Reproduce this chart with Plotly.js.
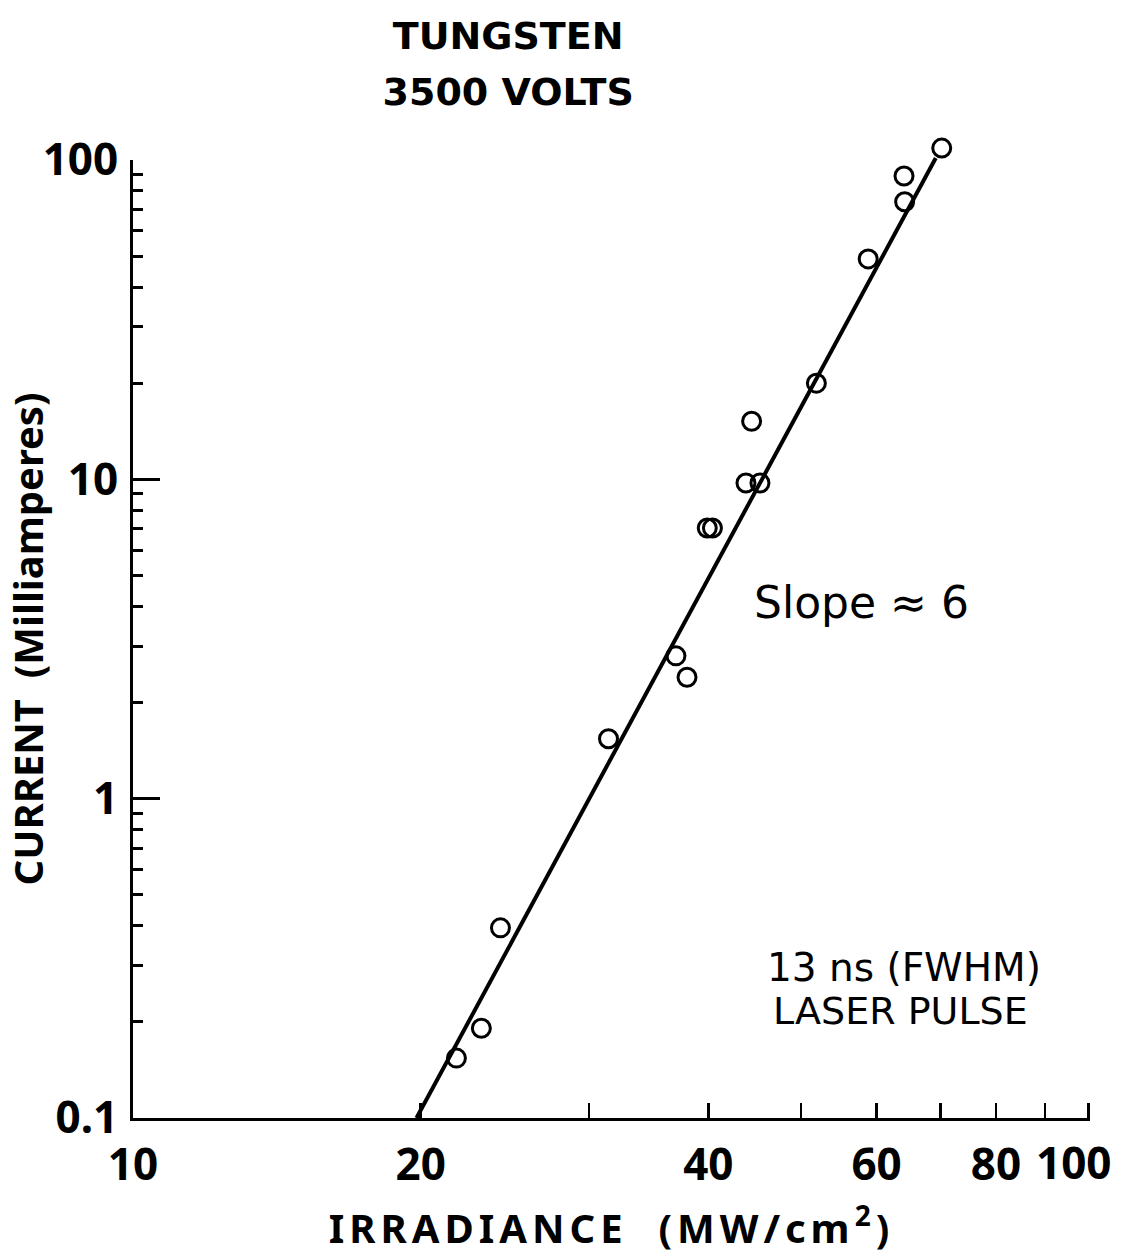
<!DOCTYPE html>
<html>
<head>
<meta charset="utf-8">
<script src="https://cdn.plot.ly/plotly-3.0.1.min.js"></script>
<style>
html,body{margin:0;padding:0;background:#fff;}
#chart{width:1124px;height:1258px;}
.g-xtitle text{letter-spacing:5px;}
</style>
</head>
<body>
<div id="chart"></div>
<script>
// Measured data (irradiance in MW/cm^2, current in mA)
const irradiance = [21.8, 23.15, 24.24, 31.45, 37.0, 38.0, 39.9, 40.4, 43.8, 45.3, 44.4, 51.9, 58.8, 64.1, 64.2, 70.2];
const current    = [0.154, 0.191, 0.394, 1.54, 2.80, 2.40, 7.04, 7.04, 9.74, 9.74, 15.2, 20.0, 49.0, 89.1, 74.0, 109];

// Fitted line (slope ~ 6) endpoints
const fitIrradiance = [19.8, 69.2];
const fitCurrent    = [0.1, 101.4];

// Axis ticks (the last label, 100, sits slightly left of its tick as in the original)
const xTickVals = [10, 20, 40, 60, 80];
const xTickText = ['10', '20', '40', '60', '80'];
const xUnlabeledTicks = [30, 50, 70, 90, 100];
const xLastLabel = {value: 100, text: '100'};
const yTickVals = [0.1, 1, 10, 100];
const yTickText = ['0.1', '1', '10', '100'];
const yMinorVals = [0.2,0.3,0.4,0.5,0.6,0.7,0.8,0.9, 2,3,4,5,6,7,8,9, 20,30,40,50,60,70,80,90];

// Annotation texts and anchor values
const slopeText = 'Slope ≈ 6';
const slopeAt = [57.9, 4.1];
const pulseLines = ['13 ns (FWHM)', 'LASER PULSE'];
const pulseAt = [[64.1, 0.297], [63.6, 0.2163]];

// Axis extents: the drawn current axis spans 0.1..100; the data axis
// (same scale, invisible) reaches a little higher so the top point shows.
const yDecades = [-1, 2];
const plotTop = 120, axisTop = 160, axisBottom = 1118;
const pxPerDecade = (axisBottom - axisTop) / (yDecades[1] - yDecades[0]);
const yMainDomainTop = (axisBottom - axisTop) / (axisBottom - plotTop);
const yDataRange = [yDecades[0], yDecades[1] + (axisTop - plotTop) / pxPerDecade];

const FONT = '"DejaVu Sans", sans-serif';
const NARROW = '"Noto Sans", "DejaVu Sans", sans-serif';
const TICKFONT = {family: NARROW, size: 44, weight: 'bold', color: '#000'};

const traces = [
  {
    x: fitIrradiance, y: fitCurrent, xaxis: 'x', yaxis: 'y2', type: 'scatter', mode: 'lines',
    line: {color: '#000', width: 4}, hoverinfo: 'skip', showlegend: false
  },
  {
    x: irradiance, y: current, xaxis: 'x', yaxis: 'y2', type: 'scatter', mode: 'markers',
    marker: {symbol: 'circle-open', size: 18, color: '#000', line: {color: '#000', width: 3}},
    showlegend: false
  }
];

const layout = {
  width: 1124, height: 1258,
  paper_bgcolor: '#fff', plot_bgcolor: 'rgba(0,0,0,0)',
  margin: {l: 133, r: 34, t: plotTop, b: 1258 - axisBottom},
  showlegend: false,
  font: {family: FONT, color: '#000'},
  title: {
    text: '<span style="font-size:38px">TUNGSTEN</span><br><span style="font-size:38px">3500 VOLTS</span>',
    font: {family: FONT, size: 43, weight: 'bold', color: '#000'},
    x: 0.392, xref: 'paper', xanchor: 'center',
    y: 0.961, yref: 'container', yanchor: 'top'
  },
  xaxis: {
    type: 'log', range: [1, 2.0015], anchor: 'y',
    showgrid: false, zeroline: false,
    showline: true, linecolor: '#000', linewidth: 3,
    tickmode: 'array', tickvals: xTickVals, ticktext: xTickText,
    ticks: 'inside', ticklen: 15, tickwidth: 2.5, tickcolor: '#000',
    minor: {tickmode: 'array', tickvals: xUnlabeledTicks, ticks: 'inside', ticklen: 15, tickwidth: 2.5, tickcolor: '#000', showgrid: false},
    ticklabelstandoff: 6,
    tickfont: TICKFONT,
    title: {
      text: 'IRRADIANCE  (MW/cm<sup>2</sup>)',
      font: {family: NARROW, size: 40, weight: 'bold', color: '#000'},
      standoff: 24
    },
    automargin: false
  },
  yaxis: {
    type: 'log', range: yDecades, domain: [0, yMainDomainTop], anchor: 'x',
    showgrid: false, zeroline: false,
    showline: true, linecolor: '#000', linewidth: 3,
    tickmode: 'array', tickvals: yTickVals, ticktext: yTickText,
    ticks: 'inside', ticklen: 27, tickwidth: 3, tickcolor: '#000',
    ticklabelstandoff: 3,
    tickfont: TICKFONT,
    minor: {tickmode: 'array', tickvals: yMinorVals, ticks: 'inside', ticklen: 10, tickwidth: 3, tickcolor: '#000', showgrid: false},
    title: {
      text: 'CURRENT  (Milliamperes)',
      font: {family: NARROW, size: 40, weight: 'bold', color: '#000'},
      standoff: 0
    },
    automargin: false
  },
  yaxis2: {
    type: 'log', range: yDataRange, domain: [0, 1], anchor: 'x',
    visible: false, showgrid: false, zeroline: false
  },
  annotations: [
    {
      text: xLastLabel.text, xref: 'x', yref: 'paper', x: Math.log10(xLastLabel.value), y: 0,
      showarrow: false, xanchor: 'center', yanchor: 'middle', xshift: -15, yshift: -44,
      font: TICKFONT
    },
    {
      text: slopeText, xref: 'x', yref: 'y', x: Math.log10(slopeAt[0]), y: Math.log10(slopeAt[1]),
      showarrow: false, xanchor: 'center', yanchor: 'middle',
      font: {family: FONT, size: 44, color: '#000'}
    },
    {
      text: pulseLines[0], xref: 'x', yref: 'y', x: Math.log10(pulseAt[0][0]), y: Math.log10(pulseAt[0][1]),
      showarrow: false, xanchor: 'center', yanchor: 'middle',
      font: {family: FONT, size: 39, color: '#000'}
    },
    {
      text: pulseLines[1], xref: 'x', yref: 'y', x: Math.log10(pulseAt[1][0]), y: Math.log10(pulseAt[1][1]),
      showarrow: false, xanchor: 'center', yanchor: 'middle',
      font: {family: FONT, size: 38, color: '#000'}
    }
  ]
};

Plotly.newPlot('chart', traces, layout, {displayModeBar: false, staticPlot: true});
</script>
</body>
</html>
